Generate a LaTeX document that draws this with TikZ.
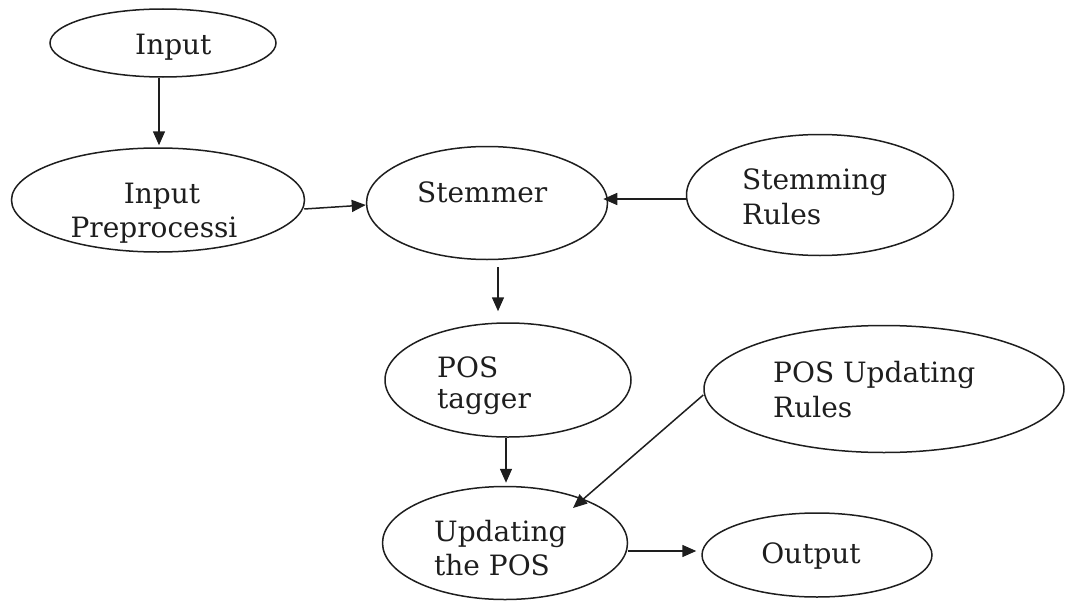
\documentclass[tikz,border=0pt]{standalone}
\usepackage{fontspec}
\setmainfont{DejaVu Serif}
\usetikzlibrary{shapes.geometric,arrows.meta,calc}

\definecolor{ink}{HTML}{1E1E1E}

\tikzset{
  blob/.style={draw=ink, line width=1.5pt, ellipse, inner sep=0pt},
  txt/.style={text=ink, inner sep=0pt, font=\fontsize{28}{34}\selectfont},
  arr/.style={draw=ink, line width=1.5pt, -{Triangle[length=14pt,width=12pt]}}
}

\begin{document}
\begin{tikzpicture}[x=1pt, y=-1pt]
  \useasboundingbox (0,0) rectangle (1065,602);

  % process ellipses
  \node[blob, minimum width=226pt, minimum height=68pt]  (inp)   at (163,43)  {};
  \node[blob, minimum width=293pt, minimum height=104pt] (pre)   at (158,200) {};
  \node[blob, minimum width=241pt, minimum height=113pt] (stem)  at (487,203) {};
  \node[blob, minimum width=267pt, minimum height=121pt] (stemR) at (820,195) {};
  \node[blob, minimum width=246pt, minimum height=114pt] (tag)   at (508,380) {};
  \node[blob, minimum width=360pt, minimum height=127pt] (posR)  at (884,389) {};
  \node[blob, minimum width=245pt, minimum height=113pt] (upd)   at (505,543) {};
  \node[blob, minimum width=230pt, minimum height=84pt]  (out)   at (817,555) {};

  % labels
  \node[txt, anchor=base west] (tInp)   at (135,55)  {Input};
  \node[txt, anchor=base]      (tPre1)  at (162,203) {Input};
  \node[txt, anchor=base]      (tPre2)  at (154,237) {Preprocessi};
  \node[txt, anchor=base west] (tStem)  at (417,202) {Stemmer};
  \node[txt, anchor=base west] (tSR1)   at (742,189) {Stemming};
  \node[txt, anchor=base west] (tSR2)   at (742,224) {Rules};
  \node[txt, anchor=base west] (tTag1)  at (437,377) {POS};
  \node[txt, anchor=base west] (tTag2)  at (437,408) {tagger};
  \node[txt, anchor=base west] (tPR1)   at (773,382) {POS Updating};
  \node[txt, anchor=base west] (tPR2)   at (773,417) {Rules};
  \node[txt, anchor=base west] (tUpd1)  at (434,541) {Updating};
  \node[txt, anchor=base west] (tUpd2)  at (434,575) {the POS};
  \node[txt, anchor=base]      (tOut)   at (811,563) {Output};

  % connectors
  \draw[arr] ($(inp.south)+(-4,0)$) -- ($(pre.north)+(1,-2)$);
  \draw[arr] ($(pre.east)+(-1,9)$) -- ($(stem.west)+(0,2)$);
  \draw[arr] ($(stemR.west)+(0,4)$) -- ($(stem.east)+(-5,-4)$);
  \draw[arr] ($(stem.south)+(11,7)$) -- ($(tag.north)+(-10,-11)$);
  \draw[arr] ($(tag.south)+(-2,0)$) -- ($(upd.north)+(1,-3)$);
  \draw[arr] ($(posR.west)+(0,6)$) -- ($(upd.center)+(68,-35)$);
  \draw[arr] ($(upd.east)+(0,8)$) -- ($(out.west)+(-5,-4)$);
\end{tikzpicture}
\end{document}
